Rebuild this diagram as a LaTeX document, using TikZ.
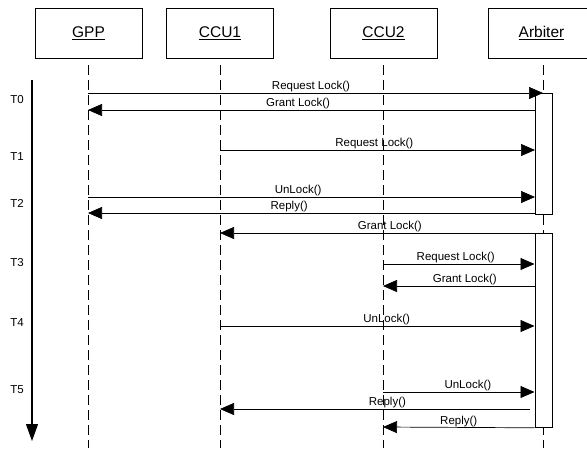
\documentclass[tikz,border=0pt]{standalone}
\usepackage{fontspec}
\setmainfont{Liberation Sans}
\usepackage{tikz}
\usetikzlibrary{positioning}
\usetikzlibrary{arrows.meta}

\tikzset{
  head/.style={draw,line width=0.8pt,minimum width=107pt,minimum height=50pt,inner sep=0pt,font=\fontsize{15.5}{18}\selectfont},
  life/.style={line width=0.9pt,dash pattern=on 10pt off 5pt},
  act/.style={draw,fill=white,line width=0.8pt,minimum width=17pt,inner sep=0pt,anchor=north west},
  msg/.style={line width=0.7pt,-{Triangle[length=14pt,width=12pt]}},
  lbl/.style={above,inner sep=0.6pt,font=\fontsize{11.5}{13}\selectfont},
  tlbl/.style={font=\fontsize{11.5}{13}\selectfont}
}

\begin{document}
\begin{tikzpicture}[x=1pt,y=-1pt]
			
			\useasboundingbox (0,0) rectangle (587,448);
			\clip (0,0) rectangle (587,448);
			
			\node[head] (GPP) at (88.5,33) {\underline{GPP}};
			\node[head] (CCU1) at (220,33) {\underline{CCU1}};
			\node[head] (CCU2) at (383.5,33) {\underline{CCU2}};
			\node[head] (ARB) at (541.5,33) {\underline{Arbiter}};
			
			\coordinate (GPPb) at (88,448);
			\coordinate (CCU1b) at (220,448);
			\coordinate (CCU2b) at (383,448);
			\coordinate (ARBb) at (543,448);
			\draw[life] (88,65) -- (GPPb);
			\draw[life] (220,65) -- (CCU1b);
			\draw[life] (383,65) -- (CCU2b);
			\draw[life] (543,65) -- (ARBb);
			
			\coordinate (Ttop) at (32,80);
			\coordinate (Tend) at (32,441);
			\draw[line width=1.3pt,-{Triangle[length=17pt,width=12pt]}] (Ttop) -- (Tend);
			\node[tlbl] (T0) at (17,100) {T0};
			\node[tlbl] (T1) at (17,157) {T1};
			\node[tlbl] (T2) at (17,203) {T2};
			\node[tlbl] (T3) at (17,263) {T3};
			\node[tlbl] (T4) at (17,323) {T4};
			\node[tlbl] (T5) at (17,390) {T5};
			
			\node[act,minimum height=121pt] (A1) at (535,93) {};
			\node[act,minimum height=194pt] (A2) at (534.5,233) {};
			
			\coordinate (g1) at (88,93);   \coordinate (a1) at (543,93);
			\draw[msg] (g1) -- node[lbl,pos=0.49] {Request Lock()} (a1);
			
			\coordinate (g2) at (88,110);  \coordinate (a2) at (A1.west |- 0,110);
			\draw[msg] (a2) -- node[lbl,pos=0.53] {Grant Lock()} (g2);
			
			\coordinate (c3) at (220,150); \coordinate (a3) at (A1.west |- 0,150);
			\draw[msg] (c3) -- node[lbl,pos=0.49] {Request Lock()} (a3);
			
			\coordinate (g4) at (88,197);  \coordinate (a4) at (A1.west |- 0,197);
			\draw[msg] (g4) -- node[lbl,pos=0.47] {UnLock()} (a4);
			
			\coordinate (g5) at (88,213);  \coordinate (a5) at (A1.west |- 0,213);
			\draw[msg] (a5) -- node[lbl,pos=0.55] {Reply()} (g5);
			
			\coordinate (c6) at (220,233); \coordinate (a6) at (A2.north west);
			\draw[msg] (a6) -- node[lbl,pos=0.46] {Grant Lock()} (c6);
			
			\coordinate (d7) at (383,264); \coordinate (a7) at (A2.west |- 0,264);
			\draw[msg] (d7) -- node[lbl,pos=0.48] {Request Lock()} (a7);
			
			\coordinate (d8) at (383,286); \coordinate (a8) at (A2.west |- 0,286);
			\draw[msg] (a8) -- node[lbl,pos=0.46] {Grant Lock()} (d8);
			
			\coordinate (c9) at (220,326); \coordinate (a9) at (A2.west |- 0,326);
			\draw[msg] (c9) -- node[lbl,pos=0.53] {UnLock()} (a9);
			
			\coordinate (d10) at (383,392); \coordinate (a10) at (A2.west |- 0,392);
			\draw[msg] (d10) -- node[lbl,pos=0.56] {UnLock()} (a10);
			
			\coordinate (c11) at (220,409); \coordinate (a11) at (530,409);
			\draw[msg] (a11) -- node[lbl,pos=0.46] {Reply()} (c11);
			
			\coordinate (d12) at (383,427); \coordinate (a12) at (A2.south west);
			\draw[msg] (a12) -- node[lbl,pos=0.5] {Reply()} (d12);
			
		\end{tikzpicture}
\end{document}
